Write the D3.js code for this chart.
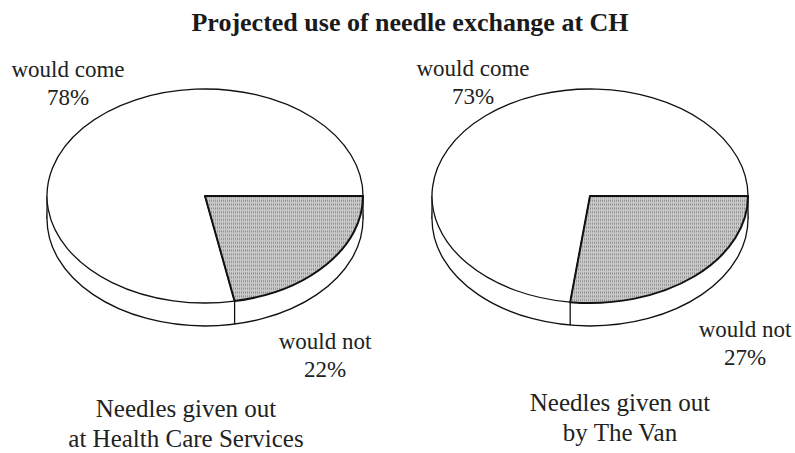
<!DOCTYPE html>
<html>
<head>
<meta charset="utf-8">
<script src="https://cdn.jsdelivr.net/npm/d3@7"></script>
<style>
  body { margin: 0; background: #fff; }
</style>
</head>
<body>
<svg id="chart" width="795" height="453"></svg>
<script>
'use strict';

/* Data */
var title = "Projected use of needle exchange at CH";
var categories = ["would not", "would come"];
var healthCareValues = [22, 78];
var vanValues = [27, 73];
var captions = [
  ["Needles given out", "at Health Care Services"],
  ["Needles given out", "by The Van"]
];

var serif = "'Liberation Serif', 'Times New Roman', serif";
var svg = d3.select("#chart");

/* stippled grey, like the screen tone of the printed chart */
var pat = svg.append("defs").append("pattern")
  .attr("id", "stipple")
  .attr("patternUnits", "userSpaceOnUse")
  .attr("width", 2).attr("height", 2);
pat.append("rect").attr("width", 2).attr("height", 2).attr("fill", "#cacaca");
pat.append("rect").attr("width", 1).attr("height", 1).attr("fill", "#8a8a8a");

svg.append("text")
  .attr("x", 410).attr("y", 31)
  .attr("text-anchor", "middle")
  .attr("font-family", serif)
  .attr("font-size", 26).attr("font-weight", "bold")
  .attr("fill", "#1a1a1a")
  .text(title);

/* layout of the two pies; label offsets are relative to the pie centre */
var pies = [
  { values: healthCareValues, cx: 205, cy: 196, caption: captions[0],
    capX: 186, capY: 417, comeAt: [-137, -119], notAt: [120, 153] },
  { values: vanValues, cx: 590, cy: 196, caption: captions[1],
    capX: 620, capY: 411, comeAt: [-117, -120], notAt: [155, 141] }
];

var rx = 158, ry = 107, depth = 23;

var pie = d3.pie().sort(null)
  .startAngle(Math.PI / 2)
  .endAngle(Math.PI / 2 + 2 * Math.PI);

var arc = d3.arc().innerRadius(0).outerRadius(rx);
var fills = ["url(#stipple)", "#fff"];

pies.forEach(function (p) {
  var g = svg.append("g").attr("transform", "translate(" + p.cx + "," + p.cy + ")");
  var arcs = pie(p.values);

  /* side of the disc */
  g.append("ellipse")
    .attr("cx", 0).attr("cy", depth).attr("rx", rx).attr("ry", ry)
    .style("fill", "#fff").style("stroke", "#111").style("stroke-width", 1.3);
  g.append("rect")
    .attr("x", -rx).attr("y", 0).attr("width", 2 * rx).attr("height", depth)
    .style("fill", "#fff");
  [-rx, rx].forEach(function (x) {
    g.append("line").attr("x1", x).attr("x2", x).attr("y1", 0).attr("y2", depth)
      .style("stroke", "#111").style("stroke-width", 1.3);
  });

  // slice edges that show on the front of the side
  arcs.forEach(function (d) {
    var a = d.endAngle, x = rx * Math.sin(a), y = -ry * Math.cos(a);
    if (y > 1 && Math.abs(x) < rx - 1) {
      g.append("line").attr("x1", x).attr("x2", x).attr("y1", y).attr("y2", y + depth)
        .style("stroke", "#111").style("stroke-width", 1.3);
    }
  });

  /* top face */
  var top = g.append("g").attr("transform", "scale(1," + (ry / rx) + ")");
  top.selectAll("path.slice")
    .data(arcs.slice().reverse())
    .enter().append("path")
    .attr("class", "slice")
    .attr("d", arc)
    .attr("vector-effect", "non-scaling-stroke")
    .style("fill", function (d) { return fills[d.index]; })
    .style("stroke", "#111")
    .style("stroke-width", function (d) { return d.index === 0 ? 2 : 1.3; })
    .style("stroke-linejoin", "round");

  /* labels */
  var labelAt = [p.notAt, p.comeAt];
  arcs.forEach(function (d, i) {
    var t = g.append("text")
      .attr("text-anchor", "middle")
      .attr("font-family", serif)
      .attr("font-size", 23)
      .attr("fill", "#222");
    t.append("tspan").attr("x", labelAt[i][0]).attr("y", labelAt[i][1])
      .text(categories[i]);
    t.append("tspan").attr("x", labelAt[i][0]).attr("y", labelAt[i][1] + 28)
      .text(p.values[i] + "%");
  });

  var cap = svg.append("text")
    .attr("text-anchor", "middle")
    .attr("font-family", serif)
    .attr("font-size", 25)
    .attr("fill", "#222");
  p.caption.forEach(function (line, i) {
    cap.append("tspan").attr("x", p.capX).attr("y", p.capY + i * 30)
      .text(line);
  });
});
</script>
</body>
</html>
